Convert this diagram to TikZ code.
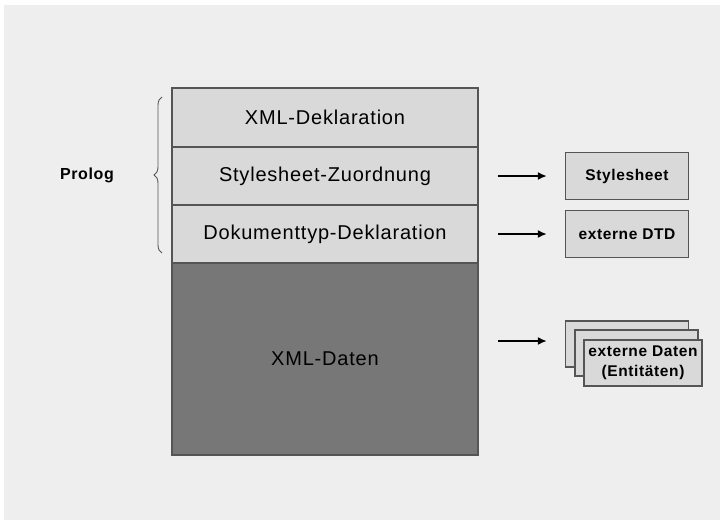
\documentclass[tikz,border=0pt]{standalone}
\usepackage{fontspec}
\setmainfont{Liberation Sans}[LetterSpace=4]
\usetikzlibrary{arrows.meta,decorations.pathreplacing}
\definecolor{bggray}{HTML}{EEEEEE}
\definecolor{rowgray}{HTML}{D9D9D9}
\definecolor{datagray}{HTML}{777777}
\definecolor{linegray}{HTML}{555555}
\begin{document}
\begin{tikzpicture}[x=1pt, y=-1pt,
                row/.style = {draw=linegray, line width=1.6pt, fill=rowgray, minimum width=306pt, inner sep=0pt,
                              font=\fontsize{20}{22}\selectfont},
                ext/.style = {draw=linegray, line width=1.3pt, fill=rowgray, minimum width=123pt, inner sep=0pt,
                              align=center, font=\bfseries\fontsize{15.5}{20}\selectfont},
                arr/.style = {draw, line width=1.8pt, -{Latex[length=9pt,width=8pt]}},
            ]
            \useasboundingbox (0,0) rectangle (720,525);
            \fill[bggray] (4,5) rectangle (720,520);

            % prolog rows
            \node (XDK) [row, minimum height=59pt] at (325,117.5) {XML-Deklaration};
            \node (SZ) [row, minimum height=58pt] at (325,176) {Stylesheet-Zuordnung};
            \node (DTD) [row, minimum height=58pt] at (325,234) {Dokumenttyp-Deklaration};
            \node (XD) [row, fill=datagray, minimum height=192pt] at (325,359) {XML-Daten};

            \node (PR) [font=\bfseries\fontsize{16}{20}\selectfont] at (87,175) {Prolog};
            \draw[linegray, line width=0.9pt, decorate, decoration={brace, amplitude=8pt}]
                (162,253) -- (162,97);

            % external parts
            \node (SH) [ext, minimum height=47pt] at (627,176) {Stylesheet};
            \node (ED) [ext, minimum height=47pt] at (627,234) {externe DTD};
            \node (E1) [ext, minimum height=46pt] at (627,344) {};
            \node (E2) [ext, minimum height=46pt] at (636.5,353) {};
            \node (E3) [ext, minimum height=46pt, minimum width=118pt] at (643,363) {externe Daten\\(Entitäten)};

            \path[arr, shorten <=19pt, shorten >=18pt] (SZ) -- (SH);
            \path[arr, shorten <=19pt, shorten >=18pt] (DTD) -- (ED);
            \path[arr, shorten <=19pt, shorten >=18pt] (XD.east |- 0,341) -- (E1.west |- 0,341);
        \end{tikzpicture}
\end{document}
